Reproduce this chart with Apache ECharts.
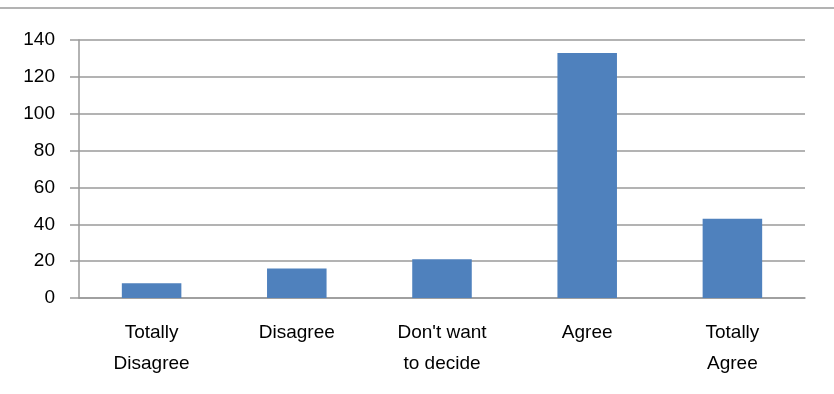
<!DOCTYPE html>
<html>
<head>
<meta charset="utf-8">
<script src="https://cdn.jsdelivr.net/npm/echarts@6/dist/echarts.min.js"></script>
<style>
  html, body { margin: 0; padding: 0; background: #fff; }
  #chart { width: 834px; height: 394px; }
</style>
</head>
<body>
<div id="chart"></div>
<script>
  // answers and counts
  const categories = ['Totally\nDisagree', 'Disagree', "Don't want\nto decide", 'Agree', 'Totally\nAgree']
  const counts = [8, 16, 21, 133, 43]

  const font = 'Liberation Sans'
  const axisGray = '#9a9a9a'

  const chart = echarts.init(document.getElementById('chart'))
  const option = {
    animation: false,
    grid: { left: 79, right: 29, top: 40, bottom: 96 },
    graphic: [
      {
        type: 'line',
        shape: { x1: 0, y1: 8, x2: 834, y2: 8 },
        style: { stroke: axisGray, lineWidth: 1.5 }
      }
    ],
    xAxis: {
      type: 'category',
      data: categories,
      axisLine: { lineStyle: { color: axisGray, width: 1.5 } },
      axisTick: { length: 9, lineStyle: { color: axisGray, width: 1.5 } },
      axisLabel: {
        color: '#000',
        fontFamily: font,
        fontSize: 19,
        lineHeight: 31,
        margin: 19,
        interval: 0
      }
    },
    yAxis: {
      type: 'value',
      min: 0,
      max: 140,
      interval: 20,
      axisLine: { show: true, lineStyle: { color: axisGray, width: 1.5 } },
      axisTick: { show: true, length: 9, lineStyle: { color: axisGray, width: 1.5 } },
      splitLine: { lineStyle: { color: axisGray, width: 1.5 } },
      axisLabel: {
        color: '#000',
        fontFamily: font,
        fontSize: 19,
        margin: 24
      }
    },
    series: [
      {
        type: 'bar',
        data: counts,
        barWidth: '41%',
        itemStyle: { color: '#4f81bd' }
      }
    ]
  }
  chart.setOption(option)
</script>
</body>
</html>
